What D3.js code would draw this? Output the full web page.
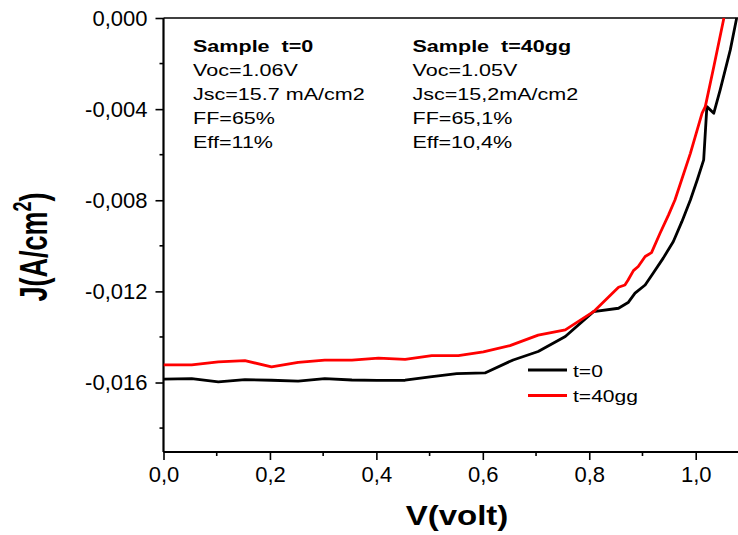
<!DOCTYPE html>
<html>
<head>
<meta charset="utf-8">
<script src="https://cdn.jsdelivr.net/npm/d3@7"></script>
<style>
  body { margin: 0; background: #fff; }
  svg { display: block; font-family: "Liberation Sans", Arial, sans-serif; }
  text { white-space: pre; }
</style>
</head>
<body>
<div id="chart"></div>
<script>
// series names / colours
var seriesNames = ["t=0", "t=40gg"];
var seriesColors = ["#000000", "#ff0000"];

// t=0 curve (V in volt, J in A/cm2)
var v_t0 = [0, 0.053, 0.103, 0.153, 0.203, 0.253, 0.303, 0.354, 0.401, 0.454, 0.501, 0.551, 0.604, 0.657, 0.704, 0.755, 0.808, 0.855, 0.873, 0.886, 0.905, 0.92, 0.939, 0.958, 0.974, 0.99, 1.003, 1.015, 1.021, 1.034, 1.046, 1.065, 1.077];
var j_t0 = [-0.01585, -0.01583, -0.01597, -0.01587, -0.0159, -0.01594, -0.01583, -0.01589, -0.01591, -0.0159, -0.01575, -0.01561, -0.01558, -0.01501, -0.01464, -0.01398, -0.01289, -0.01274, -0.01249, -0.01208, -0.01172, -0.0112, -0.01054, -0.00981, -0.00894, -0.00799, -0.0071, -0.00623, -0.00389, -0.00418, -0.00316, -0.0014, 0];

// t=40gg curve
var v_t40 = [0, 0.053, 0.103, 0.153, 0.203, 0.253, 0.303, 0.354, 0.404, 0.454, 0.504, 0.554, 0.601, 0.651, 0.704, 0.755, 0.808, 0.855, 0.867, 0.873, 0.883, 0.892, 0.905, 0.917, 0.933, 0.949, 0.961, 0.99, 1.012, 1.018, 1.034, 1.053];
var j_t40 = [-0.01523, -0.01523, -0.01509, -0.01504, -0.01531, -0.01512, -0.01502, -0.01502, -0.01493, -0.01498, -0.01482, -0.01482, -0.01466, -0.01438, -0.01392, -0.01369, -0.01289, -0.01182, -0.01172, -0.0115, -0.01109, -0.01091, -0.01047, -0.0103, -0.00945, -0.00864, -0.00799, -0.00594, -0.00418, -0.00389, -0.00214, 0];

// ticks
var xMajor = [0, 0.2, 0.4, 0.6, 0.8, 1.0];
var xMinor = [0.1, 0.3, 0.5, 0.7, 0.9, 1.1];
var yMajor = [0, -0.004, -0.008, -0.012, -0.016];
var yMinor = [-0.002, -0.006, -0.010, -0.014, -0.018];

// annotation text blocks
var note_t0 = ["Sample  t=0", "Voc=1.06V", "Jsc=15.7 mA/cm2", "FF=65%", "Eff=11%"];
var note_t40 = ["Sample  t=40gg", "Voc=1.05V", "Jsc=15,2mA/cm2", "FF=65,1%", "Eff=10,4%"];

var width = 738, height = 535;
var plotLeft = 163.5, plotTop = 18, plotBottom = 452;

var svg = d3.select("#chart").append("svg")
  .attr("width", width)
  .attr("height", height);

var x = d3.scaleLinear().domain([0, 1.1]).range([plotLeft, plotLeft + 532.2 * 1.1]);
var y = d3.scaleLinear().domain([-0.01905, 0]).range([plotBottom, plotTop]);

var comma = function(n, p) { return n.toFixed(p).replace(".", ","); };

// top frame line (right side runs off the picture)
svg.append("line")
  .attr("x1", plotLeft).attr("x2", x(1.1))
  .attr("y1", plotTop).attr("y2", plotTop)
  .attr("stroke", "#000").attr("stroke-width", 1.6);

// y axis
var yAxis = svg.append("g").attr("transform", "translate(" + plotLeft + ",0)");
yAxis.call(d3.axisLeft(y).tickValues(yMajor).tickSize(8).tickPadding(8)
  .tickFormat(function(d) { return comma(d, 3); }));
yAxis.selectAll(".minor").data(yMinor).enter().append("line")
  .attr("class", "minor")
  .attr("x1", -4).attr("x2", 0)
  .attr("y1", function(d) { return y(d); }).attr("y2", function(d) { return y(d); })
  .attr("stroke", "#000").attr("stroke-width", 1.6);

// x axis
var xAxis = svg.append("g").attr("transform", "translate(0," + plotBottom + ")");
xAxis.call(d3.axisBottom(x).tickValues(xMajor).tickSize(8).tickPadding(6)
  .tickFormat(function(d) { return comma(d, 1); }));
xAxis.selectAll(".minor").data(xMinor).enter().append("line")
  .attr("class", "minor")
  .attr("y1", 0).attr("y2", 4)
  .attr("x1", function(d) { return x(d); }).attr("x2", function(d) { return x(d); })
  .attr("stroke", "#000").attr("stroke-width", 1.6);

svg.selectAll(".domain").attr("stroke-width", 2.2);
svg.selectAll(".tick line").attr("stroke-width", 1.6);
svg.selectAll(".tick text")
  .attr("font-family", "Liberation Sans, Arial, sans-serif")
  .attr("font-size", "22px")
  .attr("fill", "#000");
xAxis.select(".domain").attr("d", "M" + plotLeft + ",0H" + width);
yAxis.select(".domain").attr("d", "M0," + plotTop + "V" + plotBottom);

// data lines
svg.append("clipPath").attr("id", "plotclip")
  .append("rect").attr("x", plotLeft).attr("y", plotTop - 2)
  .attr("width", width - plotLeft).attr("height", plotBottom - plotTop + 2);

var series = [
  { name: seriesNames[0], color: seriesColors[0], v: v_t0, j: j_t0 },
  { name: seriesNames[1], color: seriesColors[1], v: v_t40, j: j_t40 }
];

var line = d3.line()
  .x(function(d) { return x(d[0]); })
  .y(function(d) { return y(d[1]); });

var lineGroup = svg.append("g").attr("clip-path", "url(#plotclip)");
series.forEach(function(s) {
  lineGroup.append("path")
    .datum(d3.zip(s.v, s.j))
    .attr("fill", "none")
    .attr("stroke", s.color)
    .attr("stroke-width", 2.8)
    .attr("stroke-linejoin", "round")
    .attr("d", line);
});

// annotations
function addNote(rows, x0, y0) {
  var g = svg.append("g")
    .attr("transform", "translate(" + x0 + "," + y0 + ") scale(1.33,1)");
  g.selectAll("text").data(rows).enter().append("text")
    .attr("x", 0)
    .attr("y", function(d, i) { return i * 24.2; })
    .attr("font-size", "16.2px")
    .attr("font-weight", function(d, i) { return i == 0 ? "bold" : "normal"; })
    .text(function(d) { return d; });
}
addNote(note_t0, 193, 51.5);
addNote(note_t40, 412.5, 51.5);

// legend
var legend = svg.append("g").attr("transform", "translate(528,370)");
series.forEach(function(s, i) {
  legend.append("line")
    .attr("x1", 0).attr("x2", 39)
    .attr("y1", i * 25.5).attr("y2", i * 25.5)
    .attr("stroke", s.color).attr("stroke-width", 3);
  legend.append("text")
    .attr("transform", "translate(45," + (i * 25.5 + 6.5) + ") scale(1.24,1)")
    .attr("font-size", "17px")
    .text(s.name);
});

// axis titles
svg.append("text")
  .attr("transform", "translate(457,525) scale(1.18,1)")
  .attr("text-anchor", "middle")
  .attr("font-size", "28px")
  .attr("font-weight", "bold")
  .text("V(volt)");

var yTitle = svg.append("text")
  .attr("transform", "translate(47,247) rotate(-90) scale(1,1.42)")
  .attr("text-anchor", "middle")
  .attr("font-size", "27px")
  .attr("font-weight", "bold");
yTitle.append("tspan").text("J(A/cm");
yTitle.append("tspan").attr("dy", -11).attr("font-size", "18px").text("2");
yTitle.append("tspan").attr("dy", 11).text(")");
</script>
</body>
</html>
